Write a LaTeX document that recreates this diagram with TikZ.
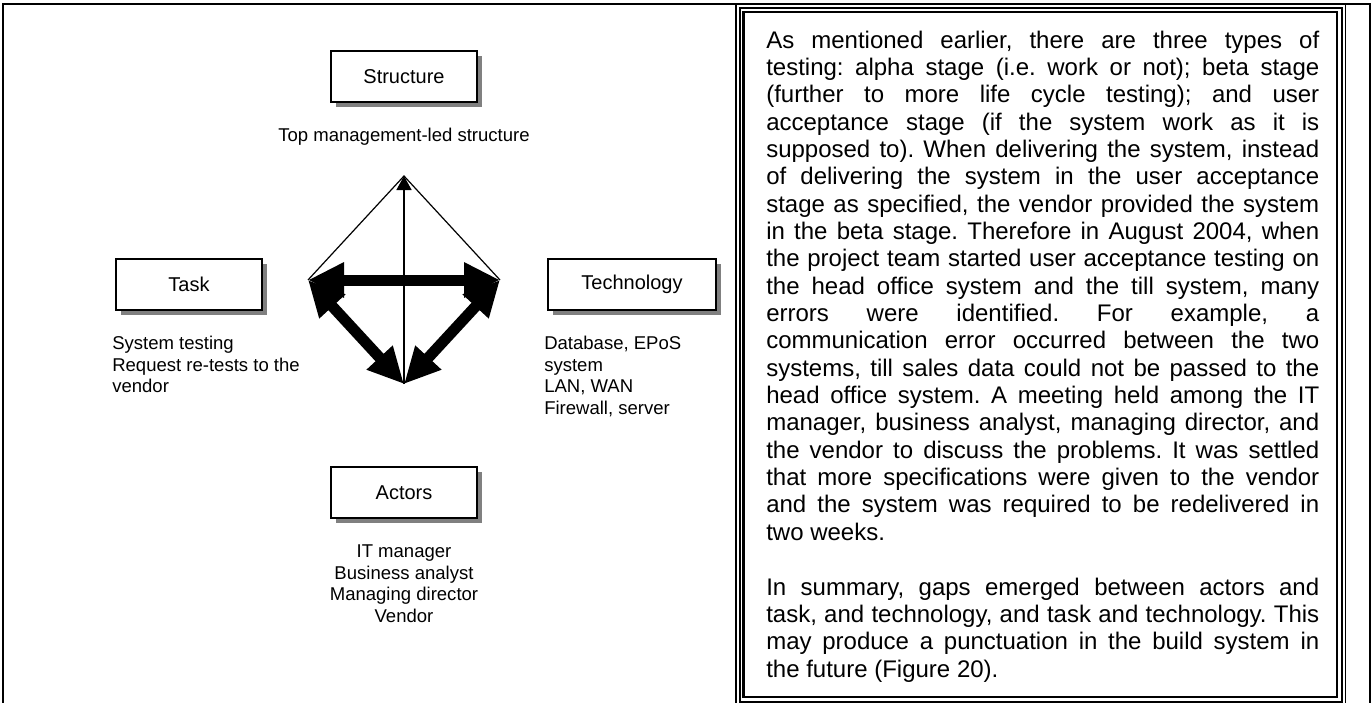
\documentclass[tikz,border=0pt]{standalone}
\usepackage{fontspec}
\setmainfont{Liberation Sans}
\usetikzlibrary{arrows.meta,shadows}
\frenchspacing
\tikzset{
  frameline/.style={line width=1.5pt},
  sbox/.style={draw, line width=1.35pt, fill=white, minimum width=109.5pt, minimum height=38.25pt,
    inner sep=0pt, font=\fontsize{15}{18}\selectfont,
    drop shadow={shadow xshift=4.1pt, shadow yshift=-4.1pt, fill=black!50, opacity=1}},
  lbl/.style={inner sep=0pt, font=\fontsize{13.9}{16.3}\selectfont},
  tline/.style={inner sep=0pt, anchor=base west, font=\fontsize{18}{20.5}\selectfont},
  fat/.style={line width=8.25pt, {Triangle[length=27pt,width=24.75pt]}-{Triangle[length=27pt,width=24.75pt]}},
  thinline/.style={line width=0.9pt},
  axisline/.style={line width=1.1pt, -{Triangle[length=10.5pt,width=11.25pt]}},
}
\newcommand\TL[3]{\node[tline] (t#1) at (766,{48+(#1-1)*27.35}) {\makebox[414.75pt][#2]{#3}};}
\newcommand\LL[4]{\node[lbl, anchor=#2] (#1) at (#3) {#4};}
\begin{document}
\begin{tikzpicture}[x=0.75pt,y=-0.75pt]
\useasboundingbox (0,0) rectangle (1372,703);
% table frame
\draw[frameline] (3,703) -- (3,4) -- (1370,4) -- (1370,703);
\draw[line width=1.1pt] (736,4) -- (736,703);
\draw[line width=0.75pt] (1345,4) -- (1345,703);
% double box
\draw[line width=1pt] (740,8) rectangle (1342,702);
\draw[line width=1.9pt] (743.5,12) rectangle (1337,697);

% boxes
\node[sbox] (structure) at (404,76.5) {Structure};
\node[sbox] (task) at (189,284.5) {Task};
\node[sbox, minimum width=126pt] (technology) at (632,284.5) {Technology};
\node[sbox] (actors) at (404,492.5) {Actors};

% labels
\LL{toplbl}{base}{404,141}{Top management-led structure}
\LL{task1}{base west}{112,349.5}{System testing}
\LL{task2}{base west}{112,371.2}{Request re-tests to the}
\LL{task3}{base west}{112,392.9}{vendor}
\LL{tech1}{base west}{544,349.5}{Database, EPoS}
\LL{tech2}{base west}{544,371.2}{system}
\LL{tech3}{base west}{544,392.9}{LAN, WAN}
\LL{tech4}{base west}{544,414.6}{Firewall, server}
\LL{act1}{base}{404,557.5}{IT manager}
\LL{act2}{base}{404,579.2}{Business analyst}
\LL{act3}{base}{404,600.9}{Managing director}
\LL{act4}{base}{404,622.6}{Vendor}

% diagram
\coordinate (T) at (404,176);
\coordinate (L) at (308,280);
\coordinate (R) at (500,280);
\coordinate (B) at (404,384);
\draw[thinline] (L) -- (T) -- (R);
\draw[axisline] (B) -- (T);
\draw[fat] (L) -- (R);
\draw[fat] (L) -- (B);
\draw[fat] (R) -- (B);

% right text
\TL{1}{s}{As mentioned earlier, there are three types of}
\TL{2}{s}{testing: alpha stage (i.e. work or not); beta stage}
\TL{3}{s}{(further to more life cycle testing); and user}
\TL{4}{s}{acceptance stage (if the system work as it is}
\TL{5}{s}{supposed to). When delivering the system, instead}
\TL{6}{s}{of delivering the system in the user acceptance}
\TL{7}{s}{stage as specified, the vendor provided the system}
\TL{8}{s}{in the beta stage. Therefore in August 2004, when}
\TL{9}{s}{the project team started user acceptance testing on}
\TL{10}{s}{the head office system and the till system, many}
\TL{11}{s}{errors were identified. For example, a}
\TL{12}{s}{communication error occurred between the two}
\TL{13}{s}{systems, till sales data could not be passed to the}
\TL{14}{s}{head office system. A meeting held among the IT}
\TL{15}{s}{manager, business analyst, managing director, and}
\TL{16}{s}{the vendor to discuss the problems. It was settled}
\TL{17}{s}{that more specifications were given to the vendor}
\TL{18}{s}{and the system was required to be redelivered in}
\TL{19}{l}{two weeks.}
\TL{21}{s}{In summary, gaps emerged between actors and}
\TL{22}{s}{task, and technology, and task and technology. This}
\TL{23}{s}{may produce a punctuation in the build system in}
\TL{24}{l}{the future (Figure 20).}
\end{tikzpicture}
\end{document}
